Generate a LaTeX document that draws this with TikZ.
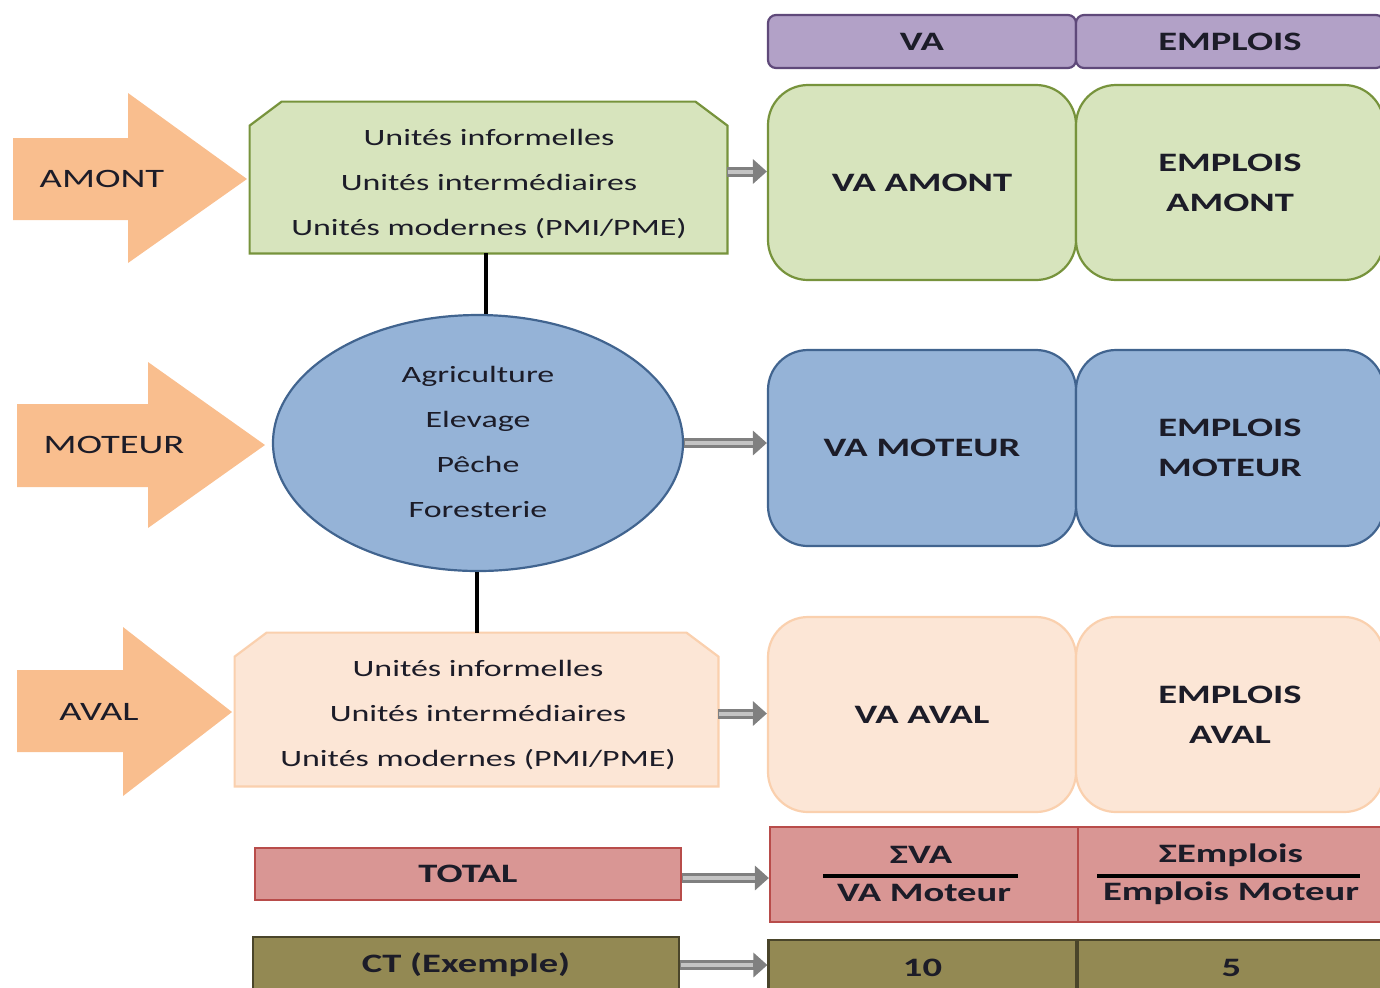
\documentclass[tikz,border=0pt]{standalone}
\usepackage{fontspec}
\setmainfont{Carlito}[FakeStretch=1.45]
\usetikzlibrary{arrows.meta,shapes.geometric,calc}
\definecolor{grF}{HTML}{D7E4BD}
\definecolor{grB}{HTML}{77933C}
\definecolor{blF}{HTML}{95B3D7}
\definecolor{blB}{HTML}{41648F}
\definecolor{peF}{HTML}{FCE6D6}
\definecolor{peB}{HTML}{FAD0AE}
\definecolor{orA}{HTML}{F9BE8E}
\definecolor{puF}{HTML}{B2A1C7}
\definecolor{puB}{HTML}{5F497A}
\definecolor{reF}{HTML}{D99694}
\definecolor{reB}{HTML}{B84C4A}
\definecolor{olF}{HTML}{938953}
\definecolor{olB}{HTML}{4A452A}
\definecolor{txt}{HTML}{1C1C28}
\definecolor{gaO}{HTML}{808080}
\definecolor{gaI}{HTML}{C4C4C4}
\begin{document}
\begin{tikzpicture}[x=0.5pt,y=-0.5pt,
  unitfont/.style={font=\fontsize{11.7}{22.5}\selectfont, text=txt, align=center},
  labfont/.style={font=\fontsize{13.3}{16}\selectfont, text=txt},
  headfont/.style={font=\bfseries\fontsize{13.3}{20}\selectfont, text=txt, align=center},
  rbox/.style={minimum width=154pt, inner sep=0pt, line width=1.1pt},
  greenbox/.style={rbox, draw=grB, fill=grF, rounded corners=20pt, minimum height=97.5pt},
  bluebox/.style={rbox, draw=blB, fill=blF, rounded corners=20pt, minimum height=98pt},
  peachbox/.style={rbox, draw=peB, fill=peF, rounded corners=20pt, minimum height=97.5pt},
  purplebox/.style={rbox, draw=puB, fill=puF, rounded corners=4pt, minimum height=26.5pt},
  redbox/.style={rbox, draw=reB, fill=reF, minimum height=47.5pt},
  olivebox/.style={rbox, draw=olB, fill=olF, minimum height=28pt},
  garrow/.style={line width=5pt, draw=gaO, -{Triangle[length=7pt,width=12pt]},
     postaction={draw=gaI, line width=2pt, shorten >=7pt, shorten <=0.5pt, arrows=-}},
  vline/.style={line width=2pt, draw=black},
  bigarrow/.style={fill=orA, draw=none}
]
\useasboundingbox (0,0) rectangle (1380,987);
\clip (0,0) rectangle (1380,987);

% ---------- header ----------
\node[purplebox, headfont] (hva) at (922,41.5) {VA};
\node[purplebox, headfont] (hemp) at (1230,41.5) {EMPLOIS};

% ---------- big orange arrows ----------
\fill[bigarrow] (13,138) -- (128,138) -- (128,93) -- (247,179) -- (128,263) -- (128,220) -- (13,220) -- cycle;
\node[labfont] (lamont) at (102,179) {AMONT};
\fill[bigarrow] (17,404) -- (148,404) -- (148,362) -- (265,445) -- (148,528) -- (148,487) -- (17,487) -- cycle;
\node[labfont] (lmoteur) at (114,445) {MOTEUR};
\fill[bigarrow] (17,670) -- (123,670) -- (123,627) -- (232,712) -- (123,796) -- (123,752) -- (17,752) -- cycle;
\node[labfont] (laval) at (99,712) {AVAL};

% ---------- AMONT chamfered box ----------
\node[minimum width=238.5pt, minimum height=75.5pt, inner sep=0pt] (amont) at (488.5,177.5) {};
\filldraw[fill=grF, draw=grB, line width=1.1pt]
  (amont.south west) -- ([yshift=-12pt]amont.north west) -- ([xshift=16pt]amont.north west)
  -- ([xshift=-16pt]amont.north east) -- ([yshift=-12pt]amont.north east) -- (amont.south east) -- cycle;
\node[unitfont] (amonttxt) at (489,184) {Unités informelles\\Unités intermédiaires\\Unités modernes (PMI/PME)};

% ---------- AVAL chamfered box ----------
\node[minimum width=241.5pt, minimum height=76.5pt, inner sep=0pt] (aval) at (476.5,709.5) {};
\filldraw[fill=peF, draw=peB, line width=1.1pt]
  (aval.south west) -- ([yshift=-12pt]aval.north west) -- ([xshift=16pt]aval.north west)
  -- ([xshift=-16pt]aval.north east) -- ([yshift=-12pt]aval.north east) -- (aval.south east) -- cycle;
\node[unitfont] (avaltxt) at (478,715) {Unités informelles\\Unités intermédiaires\\Unités modernes (PMI/PME)};

% ---------- MOTEUR ellipse ----------
\node[ellipse, draw=blB, fill=blF, line width=1.1pt, minimum width=205pt, minimum height=128pt, inner sep=0pt] (moteur) at (478,443) {};
\node[unitfont] (motxt) at (478,442) {Agriculture\\Elevage\\Pêche\\Foresterie};

% ---------- vertical links ----------
\draw[vline] ([xshift=-1.5pt]amont.south) -- ([xshift=-1.5pt]amont.south |- moteur.north);
\draw[vline] (aval.north) -- (aval.north |- moteur.south);

% ---------- right boxes ----------
\node[greenbox, headfont] (vaamont) at (922,182.5) {VA AMONT};
\node[greenbox, headfont] (empamont) at (1230,182.5) {EMPLOIS\\AMONT};
\node[bluebox, headfont] (vamoteur) at (922,448) {VA MOTEUR};
\node[bluebox, headfont] (empmoteur) at (1230,448) {EMPLOIS\\MOTEUR};
\node[peachbox, headfont] (vaaval) at (922,714.5) {VA AVAL};
\node[peachbox, headfont] (empaval) at (1230,714.5) {EMPLOIS\\AVAL};

% ---------- TOTAL ----------
\node[draw=reB, fill=reF, line width=1.2pt, minimum width=213pt, minimum height=26pt, inner sep=0pt, headfont] (total) at (468,874) {TOTAL};
\node[redbox] (tva) at (924,874.5) {};
\node[redbox] (temp) at (1232,874.5) {};
\node[headfont] (tvanum) at (921,855) {ΣVA};
\node[headfont] (tvaden) at (924,893) {VA Moteur};
\draw[line width=2pt] (823,876) -- (1018,876);
\node[headfont] (tempnum) at (1231,855) {ΣEmplois};
\node[headfont] (tempden) at (1231,893) {Emplois Moteur};
\draw[line width=2pt] (1097,876) -- (1360,876);

% ---------- CT ----------
\node[draw=olB, fill=olF, line width=1.2pt, minimum width=213pt, minimum height=28pt, inner sep=0pt, headfont] (ct) at (466,965) {CT (Exemple)};
\node[olivebox, headfont] (ctva) at (922.5,968) {10};
\node[olivebox, headfont] (ctemp) at (1231.5,968) {5};

% ---------- grey connectors ----------
\draw[garrow] ([yshift=3pt]amont.east) -- ([yshift=3pt]amont.east -| vaamont.west);
\draw[garrow] (moteur.east) -- (moteur.east -| vamoteur.west);
\draw[garrow] ([yshift=-2pt]aval.east) -- ([yshift=-2pt]aval.east -| vaaval.west);
\draw[garrow] ([yshift=-2pt]total.east) -- ([yshift=-2pt]total.east -| tva.west);
\draw[garrow] (ct.east) -- (ct.east -| ctva.west);
\end{tikzpicture}
\end{document}
